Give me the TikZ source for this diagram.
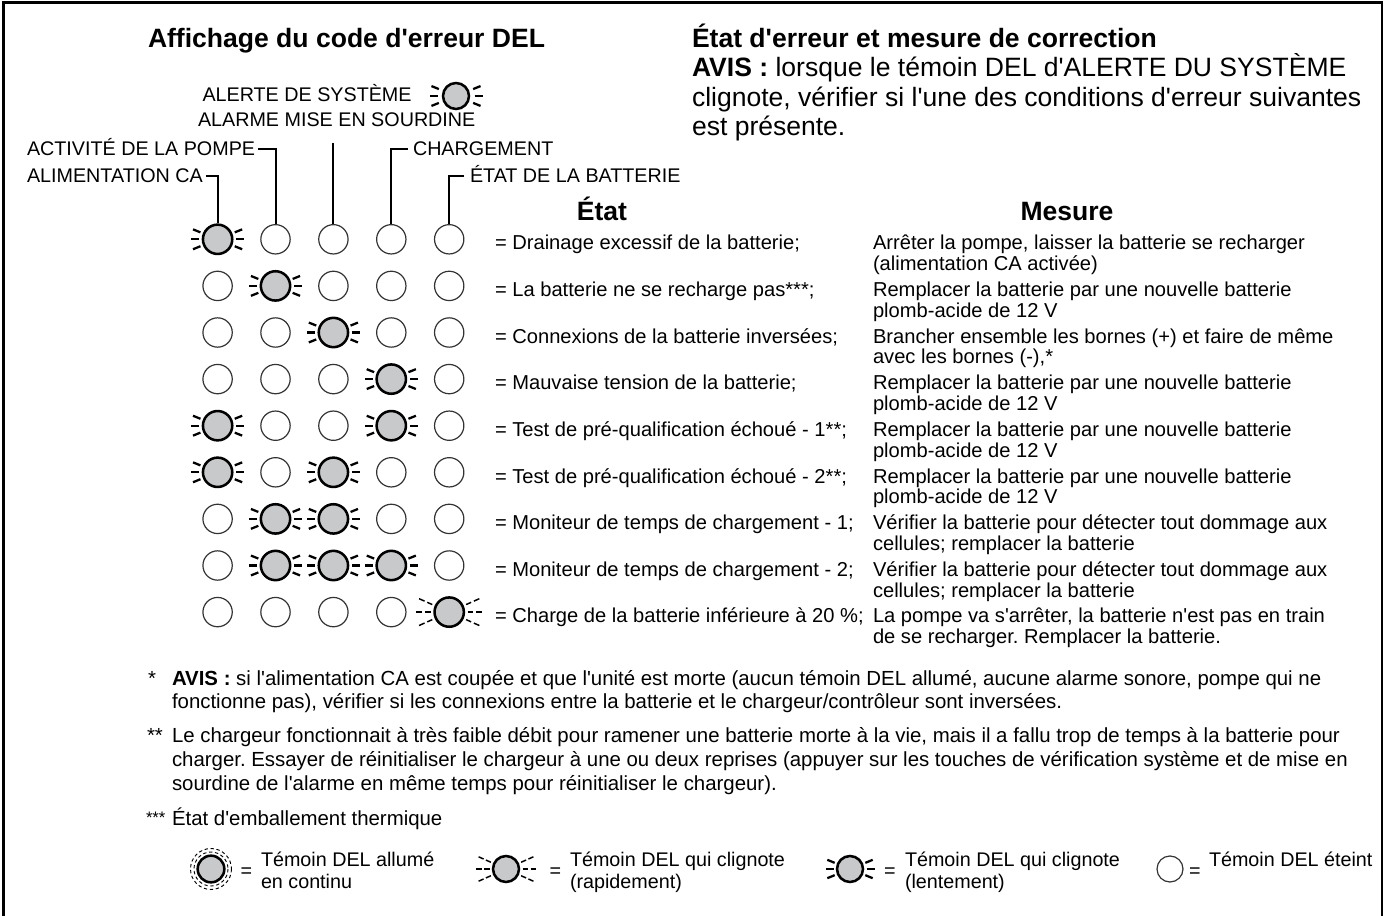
\documentclass[tikz,border=0pt]{standalone}
\usepackage{fontspec}
\setmainfont{Liberation Sans}[Ligatures=TeXOff]
\frenchspacing
\definecolor{litgray}{RGB}{200,201,203}
\tikzset{
  body/.style={font=\fontsize{14.8}{17}\selectfont, inner sep=0pt, outer sep=0pt},
  tbl/.style={font=\fontsize{15.1}{17}\selectfont, inner sep=0pt, outer sep=0pt},
  fnote/.style={font=\fontsize{15.3}{17}\selectfont, inner sep=0pt, outer sep=0pt},
  ttl/.style={font=\fontsize{19.9}{23}\selectfont\bfseries, inner sep=0pt, outer sep=0pt},
  ledO/.style={circle, draw=black!80, line width=0.9pt, minimum size=22pt, inner sep=0pt},
  ledS/.style={circle, draw=black, fill=litgray, line width=1.9pt, minimum size=22pt, inner sep=0pt},
  ledF/.style={ledS},
  smallO/.style={ledO, minimum size=19.5pt},
  smallS/.style={ledS, minimum size=19.5pt},
  sray/.style={line width=1.7pt},
  fray/.style={line width=1.1pt},
  lead/.style={line width=1.5pt},
  framepath/.style={line width=2.2pt},
  halo/.style={line width=0.7pt, dash pattern=on 2.5pt off 2pt},
  pics/slowrays/.style n args={2}{code={
    \foreach \a in {-22,0,22,158,180,202} {\draw[sray] (\a:#1) -- (\a:#2);}
  }},
  pics/fastrays/.style n args={4}{code={
    \foreach \a in {-24,0,24,156,180,204} {\draw[fray] (\a:#1) -- (\a:#2); \draw[fray] (\a:#3) -- (\a:#4);}
  }},
}
\newcommand\raysO[1]{}
\newcommand\raysS[1]{\pic at (#1) {slowrays={18.5}{26.5}};}
\newcommand\raysF[1]{\pic at (#1) {fastrays={18.5}{24}{27}{33}};}
\newcommand\ledrow[6]{%
  \pgfmathsetmacro\ledy{239.3+46.6*(#1-1)}%
  \node[led#2] (L-#1-1) at (217.6,\ledy) {};\csname rays#2\endcsname{L-#1-1}%
  \node[led#3] (L-#1-2) at (275.5,\ledy) {};\csname rays#3\endcsname{L-#1-2}%
  \node[led#4] (L-#1-3) at (333.4,\ledy) {};\csname rays#4\endcsname{L-#1-3}%
  \node[led#5] (L-#1-4) at (391.3,\ledy) {};\csname rays#5\endcsname{L-#1-4}%
  \node[led#6] (L-#1-5) at (449.2,\ledy) {};\csname rays#6\endcsname{L-#1-5}%
}
\newcommand\rowtext[4]{%
  \pgfmathsetmacro\ledy{239.3+46.6*(#1-1)}%
  \node[tbl, anchor=base west] (E-#1) at (495,\ledy+10.7) {#2};%
  \node[tbl, anchor=base west] (M-#1-a) at (873,\ledy+10.7) {#3};%
  \node[tbl, anchor=base west] (M-#1-b) at (873,\ledy+31.5) {#4};%
}
\begin{document}
\begin{tikzpicture}[x=0.75pt, y=-0.75pt]
\useasboundingbox (0,0) rectangle (1386,916);
% frame (open at the bottom, cut by the page)
\draw[framepath] (3.5,930) -- (3.5,2.5) -- (1382,2.5) -- (1382,930);

% titles
\node[ttl, anchor=base west] (t-left) at (148,47.5) {Affichage du code d'erreur DEL};
\node[ttl, anchor=base west] (t-right) at (692,47.5) {État d'erreur et mesure de correction};
\node[ttl, anchor=base west] (avis-1) at (692,77) {AVIS :\mdseries\ lorsque le témoin DEL d'ALERTE DU SYSTÈME};
\node[ttl, anchor=base west, font=\fontsize{19.9}{23}\selectfont] (avis-2) at (692,106.5) {clignote, vérifier si l'une des conditions d'erreur suivantes};
\node[ttl, anchor=base west, font=\fontsize{19.9}{23}\selectfont] (avis-3) at (692,135.5) {est présente.};

% top labels
\node[body, anchor=base west] (lbl-alerte) at (202.5,101.7) {ALERTE DE SYSTÈME};
\node[smallS] (L-top) at (456,96) {};
\raysS{L-top}
\node[body, anchor=base west] (lbl-alarme) at (198,126.7) {ALARME MISE EN SOURDINE};
\node[body, anchor=base west] (lbl-pompe) at (27,156) {ACTIVITÉ DE LA POMPE};
\node[body, anchor=base west] (lbl-alim) at (27,183) {ALIMENTATION CA};
\node[body, anchor=base west] (lbl-charg) at (413,156) {CHARGEMENT};
\node[body, anchor=base west] (lbl-etat) at (470,183) {ÉTAT DE LA BATTERIE};

% column headings
\node[ttl, anchor=base] (h-etat) at (602,221) {État};
\node[ttl, anchor=base] (h-mesure) at (1067,221) {Mesure};

% LED grid
\ledrow{1}{S}{O}{O}{O}{O}
\ledrow{2}{O}{S}{O}{O}{O}
\ledrow{3}{O}{O}{S}{O}{O}
\ledrow{4}{O}{O}{O}{S}{O}
\ledrow{5}{S}{O}{O}{S}{O}
\ledrow{6}{S}{O}{S}{O}{O}
\ledrow{7}{O}{S}{S}{O}{O}
\ledrow{8}{O}{S}{S}{S}{O}
\ledrow{9}{O}{O}{O}{O}{F}

% leader lines
\coordinate (alarm-foot) at (333.4,143);
\draw[lead] ([shift={(3,-6.5)}]lbl-alim.base east) -| (L-1-1.north);
\draw[lead] ([shift={(3,-6.5)}]lbl-pompe.base east) -| (L-1-2.north);
\draw[lead] (alarm-foot) -- (L-1-3.north);
\draw[lead] ([shift={(-5,-6.5)}]lbl-charg.base west) -| (L-1-4.north);
\draw[lead] ([shift={(-6,-6.5)}]lbl-etat.base west) -| (L-1-5.north);

% row texts
\rowtext{1}{= Drainage excessif de la batterie;}{Arrêter la pompe, laisser la batterie se recharger}{(alimentation CA activée)}
\rowtext{2}{= La batterie ne se recharge pas***;}{Remplacer la batterie par une nouvelle batterie}{plomb-acide de 12 V}
\rowtext{3}{= Connexions de la batterie inversées;}{Brancher ensemble les bornes (+) et faire de même}{avec les bornes (-),*}
\rowtext{4}{= Mauvaise tension de la batterie;}{Remplacer la batterie par une nouvelle batterie}{plomb-acide de 12 V}
\rowtext{5}{= Test de pré-qualification échoué - 1**;}{Remplacer la batterie par une nouvelle batterie}{plomb-acide de 12 V}
\rowtext{6}{= Test de pré-qualification échoué - 2**;}{Remplacer la batterie par une nouvelle batterie}{plomb-acide de 12 V}
\rowtext{7}{= Moniteur de temps de chargement - 1;}{Vérifier la batterie pour détecter tout dommage aux}{cellules; remplacer la batterie}
\rowtext{8}{= Moniteur de temps de chargement - 2;}{Vérifier la batterie pour détecter tout dommage aux}{cellules; remplacer la batterie}
\rowtext{9}{= Charge de la batterie inférieure à 20 \%;}{La pompe va s'arrêter, la batterie n'est pas en train}{de se recharger. Remplacer la batterie.}

% footnotes
\node[fnote, anchor=base west] (fn1-m) at (148,685) {*};
\node[fnote, anchor=base west] (fn1-a) at (172,685) {\textbf{AVIS :} si l'alimentation CA est coupée et que l'unité est morte (aucun témoin DEL allumé, aucune alarme sonore, pompe qui ne};
\node[fnote, anchor=base west] (fn1-b) at (172,708) {fonctionne pas), vérifier si les connexions entre la batterie et le chargeur/contrôleur sont inversées.};
\node[fnote, anchor=base west] (fn2-m) at (147,742) {**};
\node[fnote, anchor=base west] (fn2-a) at (172,742) {Le chargeur fonctionnait à très faible débit pour ramener une batterie morte à la vie, mais il a fallu trop de temps à la batterie pour};
\node[fnote, anchor=base west] (fn2-b) at (172,766) {charger. Essayer de réinitialiser le chargeur à une ou deux reprises (appuyer sur les touches de vérification système et de mise en};
\node[fnote, anchor=base west] (fn2-c) at (172,790) {sourdine de l'alarme en même temps pour réinitialiser le chargeur).};
\node[fnote, anchor=base west, font=\fontsize{12.5}{15}\selectfont] (fn3-m) at (146,823) {***};
\node[fnote, anchor=base west] (fn3-a) at (172,825) {État d'emballement thermique};

% legend
\node[smallS, minimum size=20pt] (G-cont) at (211,869) {};
\draw[halo] (G-cont) circle[radius=17];
\draw[halo] (G-cont) circle[radius=20.5];
\node[body, anchor=base] (G-cont-eq) at (246.5,877) {=};
\node[body, anchor=base west] (G-cont-a) at (261,866) {Témoin DEL allumé};
\node[body, anchor=base west] (G-cont-b) at (261,888) {en continu};

\node[smallS] (G-fast) at (506,869) {};
\pic at (G-fast) {fastrays={16.5}{22}{24.5}{30}};
\node[body, anchor=base] (G-fast-eq) at (555.5,877) {=};
\node[body, anchor=base west] (G-fast-a) at (570,866) {Témoin DEL qui clignote};
\node[body, anchor=base west] (G-fast-b) at (570,888) {(rapidement)};

\node[smallS] (G-slow) at (850,869) {};
\pic at (G-slow) {slowrays={16.5}{24.5}};
\node[body, anchor=base] (G-slow-eq) at (890,877) {=};
\node[body, anchor=base west] (G-slow-a) at (905,866) {Témoin DEL qui clignote};
\node[body, anchor=base west] (G-slow-b) at (905,888) {(lentement)};

\node[smallO] (G-off) at (1170,869) {};
\node[body, anchor=base] (G-off-eq) at (1195,877) {=};
\node[body, anchor=base west] (G-off-a) at (1209,866) {Témoin DEL éteint};
\end{tikzpicture}
\end{document}
